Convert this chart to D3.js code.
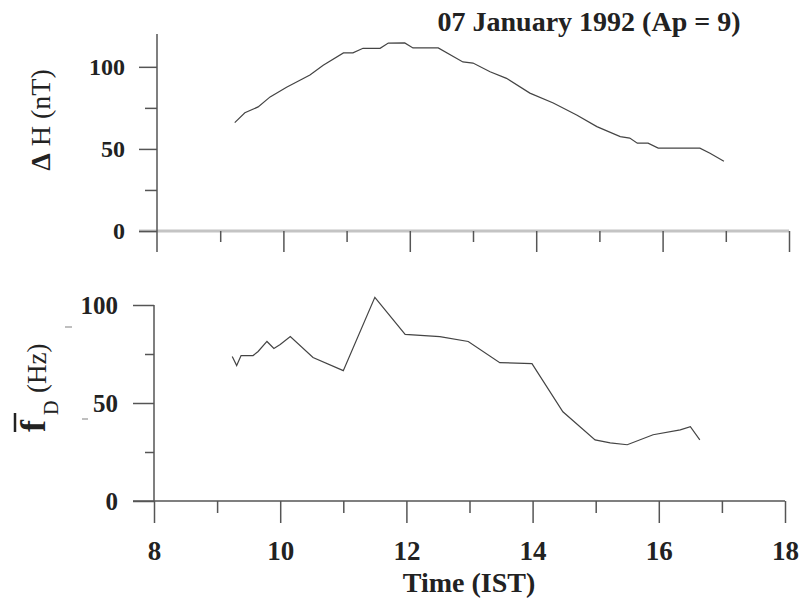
<!DOCTYPE html>
<html>
<head>
<meta charset="utf-8">
<script src="https://cdn.jsdelivr.net/npm/d3@7"></script>
<style>
  body { margin: 0; background: #fff; }
  svg { display: block; font-family: "Liberation Serif", "Times New Roman", serif; }
  .tick line { stroke: #555; stroke-width: 1.5; }
</style>
</head>
<body>
<svg width="799" height="599"></svg>
<script>
// top panel: delta H (nT) vs time (IST)
var hTime = [9.23, 9.39, 9.6, 9.79, 10.05, 10.42, 10.63, 10.95, 11.1, 11.26, 11.53, 11.66, 11.92, 12.05, 12.45, 12.84, 13.0, 13.27, 13.53, 13.9, 14.27, 14.64, 14.96, 15.33, 15.48, 15.6, 15.77, 15.93, 16.59, 16.75, 16.97];
var hVal = [66, 72, 75.6, 81.7, 87.6, 95, 101, 108.5, 108.5, 111.3, 111.3, 114.5, 114.6, 111.5, 111.5, 103, 102.3, 97, 93, 84, 78, 70.7, 63.6, 57.5, 56.6, 53.5, 53.5, 50.5, 50.5, 47.4, 42.5];

// bottom panel: mean Doppler frequency fD (Hz) vs time (IST)
var fdTime = [9.24, 9.31, 9.38, 9.57, 9.65, 9.79, 9.9, 10.0, 10.16, 10.52, 11.0, 11.5, 11.98, 12.53, 12.98, 13.48, 13.99, 14.48, 14.99, 15.23, 15.5, 15.91, 16.34, 16.5, 16.65];
var fdVal = [73.7, 69.1, 74.2, 74.2, 76.3, 81.4, 77.8, 79.8, 83.9, 73.2, 66.5, 103.9, 85, 83.9, 81.4, 70.6, 70.1, 45.5, 31.2, 29.7, 28.7, 33.8, 36.3, 37.9, 31.2];

var yMajor = [0, 50, 100];
var yMinor = [25, 75];
var xMajor = [8, 10, 12, 14, 16, 18];
var xMinor = [9, 11, 13, 15, 17];
var title = "07 January 1992 (Ap = 9)";

var svg = d3.select("svg");

// scales
var xTop = d3.scaleLinear().domain([8, 18]).range([157, 789]);
var yTop = d3.scaleLinear().domain([0, 120]).range([231, 34]);
var xBot = d3.scaleLinear().domain([8, 18]).range([154, 785]);
var yBot = d3.scaleLinear().domain([0, 100]).range([501, 305]);

var line = function(xs, ys) {
  return d3.line().x(function(d) { return xs(d[0]); }).y(function(d) { return ys(d[1]); });
};

// strip d3's default axis styling, set serif bold labels
var plain = function(g) {
  g.attr("font-family", "Liberation Serif").attr("font-size", null);
  g.select(".domain").remove();
  g.selectAll("text").attr("font-weight", "bold").attr("fill", "#222");
};

// ---- top panel ----
var gTop = svg.append("g");

// gray x axis line
gTop.append("line")
  .attr("x1", 139).attr("x2", xTop(18))
  .attr("y1", yTop(0)).attr("y2", yTop(0))
  .attr("stroke", "#c4c4c4").attr("stroke-width", 3);

gTop.append("line")
  .attr("x1", xTop(8)).attr("x2", xTop(8))
  .attr("y1", yTop(120)).attr("y2", yTop(0) + 21)
  .attr("stroke", "#555").attr("stroke-width", 1.5);

gTop.append("g")
  .attr("transform", "translate(" + xTop(8) + ",0)")
  .call(d3.axisLeft(yTop).tickValues(yMajor).tickSize(18).tickPadding(14).tickFormat(d3.format("d")))
  .call(plain)
  .selectAll("text").attr("font-size", 24);

gTop.append("g")
  .attr("transform", "translate(" + xTop(8) + ",0)")
  .call(d3.axisLeft(yTop).tickValues(yMinor).tickSize(12).tickFormat(""))
  .call(plain);

gTop.append("g")
  .attr("transform", "translate(0," + yTop(0) + ")")
  .call(d3.axisBottom(xTop).tickValues(xMajor.slice(1)).tickSize(21).tickFormat(""))
  .call(plain);

gTop.append("g")
  .attr("transform", "translate(0," + yTop(0) + ")")
  .call(d3.axisBottom(xTop).tickValues(xMinor).tickSize(11).tickFormat(""))
  .call(plain);

gTop.append("path")
  .datum(d3.zip(hTime, hVal))
  .attr("fill", "none")
  .attr("stroke", "#444")
  .attr("stroke-width", 1.2)
  .attr("d", line(xTop, yTop));

gTop.append("text")
  .attr("x", 589).attr("y", 31)
  .attr("text-anchor", "middle")
  .attr("font-size", 28).attr("font-weight", "bold").attr("fill", "#222")
  .text(title);

var yl1 = gTop.append("text")
  .attr("transform", "translate(50,120) rotate(-90)")
  .attr("text-anchor", "middle")
  .attr("font-size", 28).attr("fill", "#222");
yl1.append("tspan").attr("font-weight", "bold").text("\u0394");
yl1.append("tspan").text(" H (nT)");

// ---- bottom panel ----
var gBot = svg.append("g");

gBot.append("line")
  .attr("x1", 133).attr("x2", xBot(18))
  .attr("y1", yBot(0)).attr("y2", yBot(0))
  .attr("stroke", "#555").attr("stroke-width", 1.5);

gBot.append("line")
  .attr("x1", xBot(8)).attr("x2", xBot(8))
  .attr("y1", yBot(100)).attr("y2", yBot(0))
  .attr("stroke", "#555").attr("stroke-width", 1.5);

gBot.append("g")
  .attr("transform", "translate(" + xBot(8) + ",0)")
  .call(d3.axisLeft(yBot).tickValues(yMajor).tickSize(21).tickPadding(15).tickFormat(d3.format("d")))
  .call(plain)
  .selectAll("text").attr("font-size", 25);

gBot.append("g")
  .attr("transform", "translate(" + xBot(8) + ",0)")
  .call(d3.axisLeft(yBot).tickValues(yMinor).tickSize(9).tickFormat(""))
  .call(plain);

gBot.append("g")
  .attr("transform", "translate(0," + yBot(0) + ")")
  .call(d3.axisBottom(xBot).tickValues(xMajor).tickSize(22).tickPadding(18).tickFormat(d3.format("d")))
  .call(plain)
  .selectAll("text").attr("font-size", 27);

gBot.append("g")
  .attr("transform", "translate(0," + yBot(0) + ")")
  .call(d3.axisBottom(xBot).tickValues(xMinor).tickSize(12).tickFormat(""))
  .call(plain);

gBot.append("path")
  .datum(d3.zip(fdTime, fdVal))
  .attr("fill", "none")
  .attr("stroke", "#444")
  .attr("stroke-width", 1.2)
  .attr("d", line(xBot, yBot));

gBot.append("text")
  .attr("x", 469).attr("y", 592)
  .attr("text-anchor", "middle")
  .attr("font-size", 28).attr("font-weight", "bold").attr("fill", "#222")
  .text("Time (IST)");

// f-bar sub D (Hz) label, rotated
var yl2 = gBot.append("g").attr("transform", "translate(45,432) rotate(-90)");
yl2.append("text").attr("x", 0).attr("y", 0)
  .attr("font-size", 36).attr("font-weight", "bold").attr("fill", "#222").text("f");
yl2.append("line").attr("x1", 0).attr("x2", 19).attr("y1", -30).attr("y2", -30)
  .attr("stroke", "#222").attr("stroke-width", 2.5);
yl2.append("text").attr("x", 17).attr("y", 13)
  .attr("font-size", 20).attr("fill", "#222").text("D");
yl2.append("text").attr("x", 39).attr("y", 1)
  .attr("font-size", 27).attr("fill", "#222").text("(Hz)");

// small stray marks next to the label
gBot.append("line").attr("x1", 65).attr("x2", 72).attr("y1", 327).attr("y2", 327)
  .attr("stroke", "#aaa").attr("stroke-width", 1.5);
gBot.append("line").attr("x1", 82).attr("x2", 88).attr("y1", 419).attr("y2", 419)
  .attr("stroke", "#aaa").attr("stroke-width", 1.5);
</script>
</body>
</html>
